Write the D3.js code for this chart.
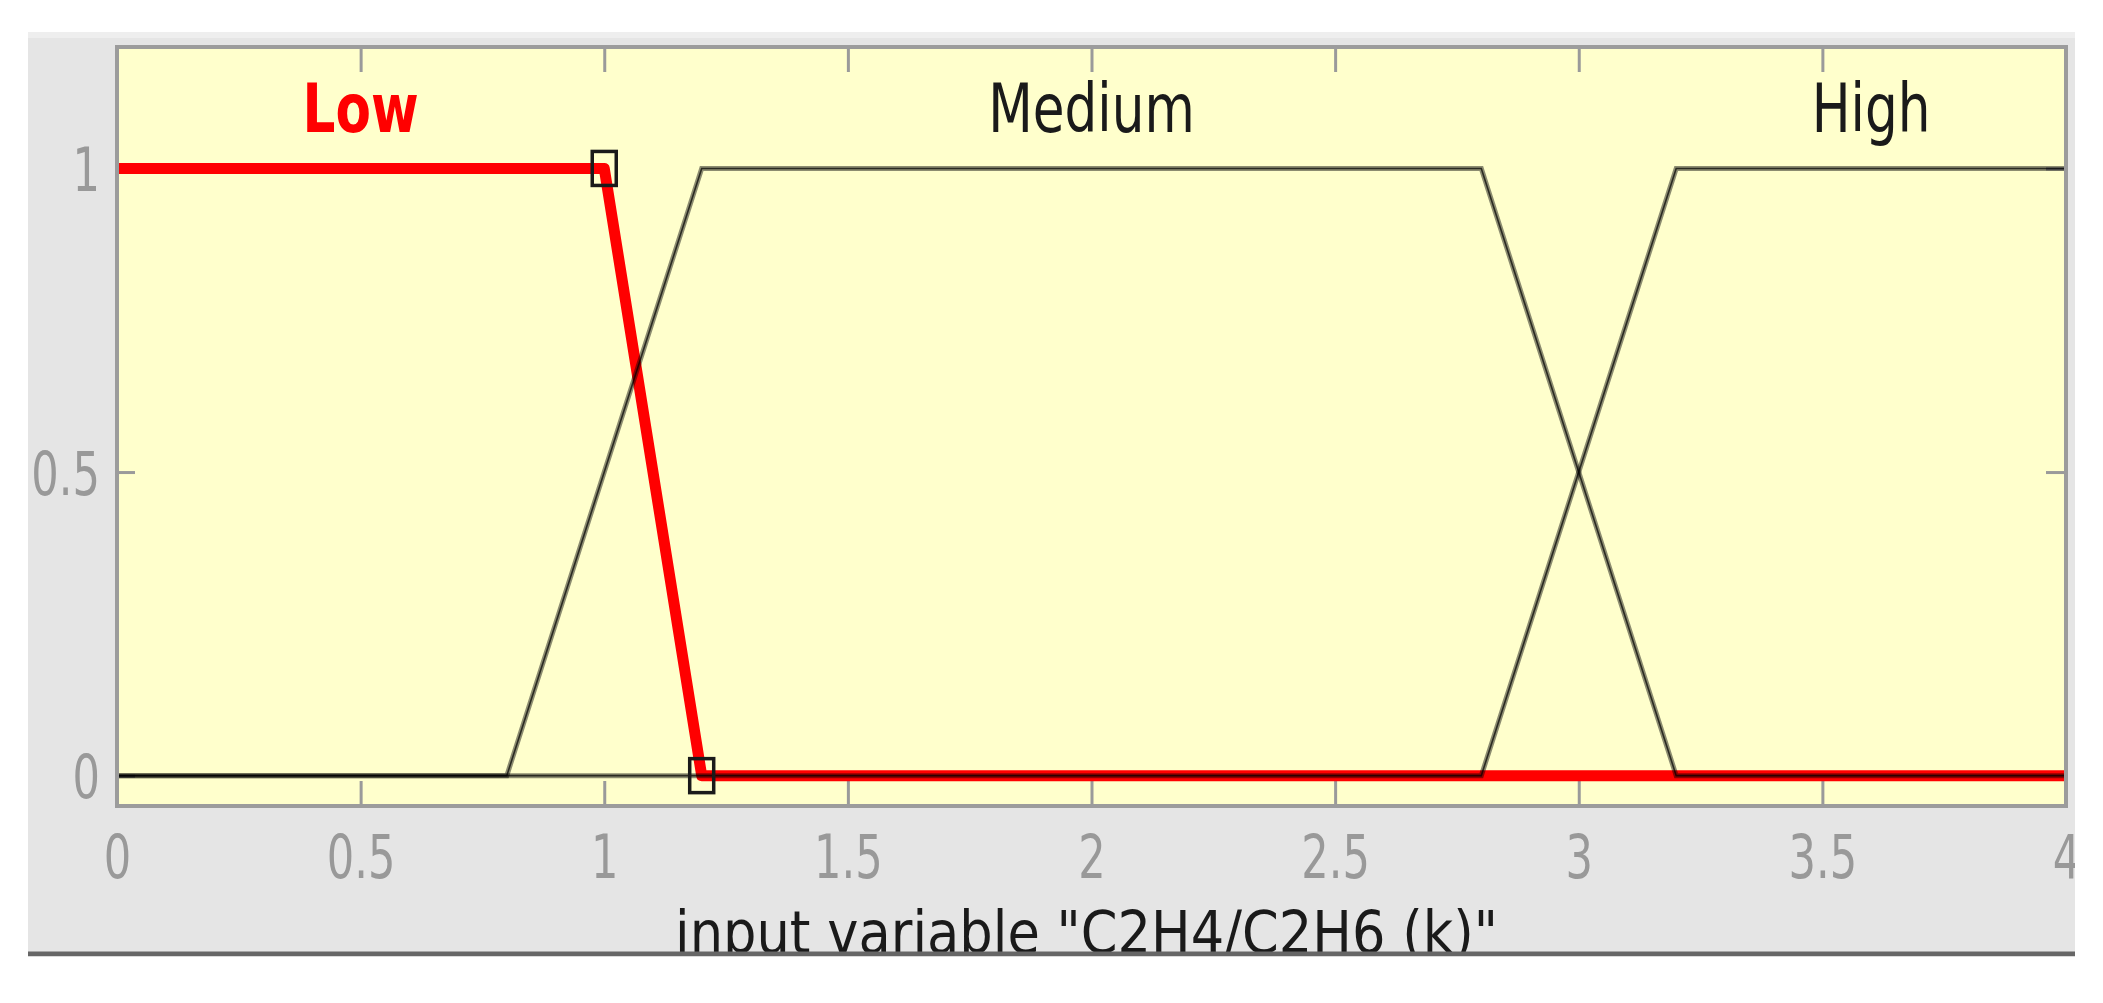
<!DOCTYPE html>
<html>
<head>
<meta charset="utf-8">
<script src="https://cdn.jsdelivr.net/npm/d3@7"></script>
<style>
  html,body{margin:0;padding:0;background:#fff;}
  svg{display:block;}
  text{font-family:"DejaVu Sans",sans-serif;}
</style>
</head>
<body>
<svg id="chart" width="2103" height="1003"></svg>
<script>
// ---------------- data ----------------
const xTicks = [0, 0.5, 1, 1.5, 2, 2.5, 3, 3.5, 4];
const xTickLabels = ["0", "0.5", "1", "1.5", "2", "2.5", "3", "3.5", "4"];
const yTicks = [0, 0.5, 1];
const yTickLabels = ["0", "0.5", "1"];
const mfNames = ["Low", "Medium", "High"];
const lowX = [0, 1, 1.2, 4];
const lowY = [1, 1, 0, 0];
const mediumX = [0, 0.8, 1.2, 2.8, 3.2, 4];
const mediumY = [0, 0, 1, 1, 0, 0];
const highX = [0, 2.8, 3.2, 4];
const highY = [0, 0, 1, 1];
const selectedIndex = 0;          // "Low" is the highlighted membership function
const selectedHandles = [[1, 1], [1.2, 0]];
const axisTitle = 'input variable "C2H4/C2H6  (k)"';

const mfs = [
  {name: mfNames[0], xs: lowX, ys: lowY},
  {name: mfNames[1], xs: mediumX, ys: mediumY},
  {name: mfNames[2], xs: highX, ys: highY}
];

// ---------------- layout ----------------
const svg = d3.select("#chart");
const panel = {x: 28, y: 32, w: 2047, h: 922};
const plot = {l: 117, r: 2066, t: 47, b: 806};

const x = d3.scaleLinear().domain([0, 4]).range([plot.l, plot.r]);
const y = d3.scaleLinear().domain([-0.05, 1.2]).range([plot.b, plot.t]);

const defs = svg.append("defs");
defs.append("clipPath").attr("id", "panelClip")
  .append("rect").attr("x", panel.x).attr("y", panel.y).attr("width", panel.w).attr("height", panel.h);
defs.append("clipPath").attr("id", "plotClip")
  .append("rect").attr("x", plot.l).attr("y", plot.t).attr("width", plot.r - plot.l).attr("height", plot.b - plot.t);

// gray figure panel
svg.append("rect").attr("x", panel.x).attr("y", panel.y).attr("width", panel.w).attr("height", panel.h)
  .attr("fill", "#e5e5e5");
svg.append("line").attr("x1", panel.x).attr("x2", panel.x + panel.w).attr("y1", panel.y + 3).attr("y2", panel.y + 3)
  .attr("stroke", "#eeeeee").attr("stroke-width", 6);

const g = svg.append("g").attr("clip-path", "url(#panelClip)");

// plot background
g.append("rect").attr("x", plot.l).attr("y", plot.t).attr("width", plot.r - plot.l).attr("height", plot.b - plot.t)
  .attr("fill", "#ffffcc");

// axes (ticks inward)
function styleAxis(sel) {
  sel.select(".domain").remove();
  sel.selectAll(".tick line").attr("stroke", "#9a9a9a").attr("stroke-width", 3);
}
const xFmt = (d) => xTickLabels[xTicks.indexOf(d)];
const yFmt = (d) => yTickLabels[yTicks.indexOf(d)];

const axB = g.append("g").attr("transform", `translate(0,${plot.b})`)
  .call(d3.axisBottom(x).tickValues(xTicks).tickFormat(xFmt).tickSizeInner(-25).tickSizeOuter(0));
styleAxis(axB);
axB.selectAll(".tick text")
  .attr("x", 0).attr("y", 0).attr("dy", null)
  .attr("transform", "translate(0,72) scale(0.72,1)")
  .attr("fill", "#999999").attr("font-size", 60).attr("text-anchor", "middle");

const axT = g.append("g").attr("transform", `translate(0,${plot.t})`)
  .call(d3.axisTop(x).tickValues(xTicks).tickFormat("").tickSizeInner(-25).tickSizeOuter(0));
styleAxis(axT);

const axL = g.append("g").attr("transform", `translate(${plot.l},0)`)
  .call(d3.axisLeft(y).tickValues(yTicks).tickFormat(yFmt).tickSizeInner(-18).tickSizeOuter(0));
styleAxis(axL);
axL.selectAll(".tick text")
  .attr("x", 0).attr("y", 0).attr("dy", null)
  .attr("transform", "translate(-17,22) scale(0.72,1)")
  .attr("fill", "#999999").attr("font-size", 60).attr("text-anchor", "end");

const axR = g.append("g").attr("transform", `translate(${plot.r},0)`)
  .call(d3.axisRight(y).tickValues(yTicks).tickFormat("").tickSizeInner(-20).tickSizeOuter(0));
styleAxis(axR);

// membership functions
const line = d3.line().x(d => x(d[0])).y(d => y(d[1]));
const pts = (mf) => mf.xs.map((v, i) => [v, mf.ys[i]]);

const lines = g.append("g").attr("clip-path", "url(#plotClip)");
// selected (red) first
lines.append("path").datum(pts(mfs[selectedIndex]))
  .attr("d", line).attr("fill", "none").attr("stroke", "#ff0000")
  .attr("stroke-width", 11).attr("stroke-linejoin", "round");
mfs.forEach((mf, i) => {
  if (i === selectedIndex) return;
  lines.append("path").datum(pts(mf))
    .attr("d", line).attr("fill", "none").attr("stroke", "#000")
    .attr("stroke-opacity", 0.45).attr("stroke-width", 5);
});
mfs.forEach((mf, i) => {
  if (i === selectedIndex) return;
  lines.append("path").datum(pts(mf))
    .attr("d", line).attr("fill", "none").attr("stroke", "#000")
    .attr("stroke-opacity", 0.7).attr("stroke-width", 1.6);
});

// handles on the selected MF
lines.selectAll("rect.handle").data(selectedHandles).enter().append("rect")
  .attr("class", "handle")
  .attr("x", d => x(d[0]) - 12).attr("y", d => y(d[1]) - 17)
  .attr("width", 24).attr("height", 34)
  .attr("fill", "none").attr("stroke", "#1a1a1a").attr("stroke-width", 3.5);

// MF labels at the middle of each plateau
mfs.forEach((mf, i) => {
  const plateau = mf.xs.filter((v, k) => mf.ys[k] === 1);
  const cx = x((d3.min(plateau) + d3.max(plateau)) / 2);
  g.append("text")
    .attr("transform", `translate(${cx},${y(1) - 36}) scale(0.76,1)`)
    .attr("text-anchor", "middle")
    .attr("font-size", 68)
    .attr("font-weight", i === selectedIndex ? "bold" : "normal")
    .attr("fill", i === selectedIndex ? "#ff0000" : "#1a1a1a")
    .text(mf.name);
});

// plot border
g.append("rect").attr("x", plot.l).attr("y", plot.t).attr("width", plot.r - plot.l).attr("height", plot.b - plot.t)
  .attr("fill", "none").attr("stroke", "#9c9c9c").attr("stroke-width", 4);

// axis title (cut by the panel's bottom edge)
g.append("text")
  .attr("x", 675).attr("y", 953)
  .attr("font-size", 58)
  .attr("fill", "#1a1a1a")
  .attr("textLength", 823).attr("lengthAdjust", "spacingAndGlyphs")
  .text(axisTitle);

// bottom edge of the figure panel
svg.append("line").attr("x1", panel.x).attr("x2", panel.x + panel.w).attr("y1", 954).attr("y2", 954)
  .attr("stroke", "#666666").attr("stroke-width", 5);
svg.append("rect").attr("x", 0).attr("y", 956.5).attr("width", 2103).attr("height", 50).attr("fill", "#fff");
</script>
</body>
</html>
